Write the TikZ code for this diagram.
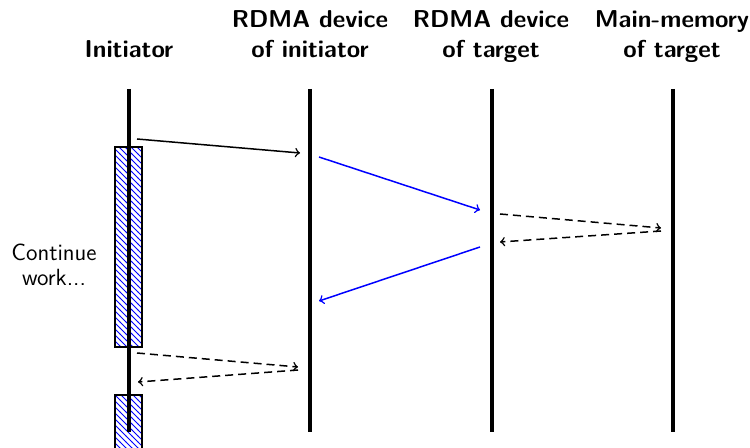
\documentclass[tikz,border=0pt]{standalone}
\usetikzlibrary{patterns}
\begin{document}
\begin{tikzpicture}[x=0.5pt,y=-0.5pt,
  title/.style={font=\fontsize{12.2}{15}\selectfont\sffamily\bfseries, align=center, anchor=south, text depth=0pt, inner sep=0pt},
  lifeline/.style={line width=2pt},
  msg/.style={line width=0.75pt,->},
  blue msg/.style={msg, draw=blue},
  dmsg/.style={msg, dash pattern=on 4pt off 2.5pt},
  busy/.style={draw=black, line width=0.6pt, preaction={fill=white}, pattern=north west lines, pattern color=blue}
]
\clip (0,0) rectangle (750,448);
\useasboundingbox (0,0) rectangle (750,448);

% titles
\node[title] (tI) at (129,58) {Initiator};
\node[title] (tR) at (310,58) {RDMA device\\of initiator};
\node[title] (tT) at (491,58) {RDMA device\\of target};
\node[title] (tM) at (672,58) {Main-memory\\of target};

% activation boxes
\draw[busy] (115,147) rectangle (142,347);
\draw[busy] (115,395) rectangle (142,470);

% lifelines
\coordinate (I0) at (129,89);  \coordinate (I1) at (129,432);
\coordinate (R0) at (310,89);  \coordinate (R1) at (310,432);
\coordinate (T0) at (492,89);  \coordinate (T1) at (492,432);
\coordinate (M0) at (673,89);  \coordinate (M1) at (673,432);
\draw[lifeline] (I0) -- (I1);
\draw[lifeline] (R0) -- (R1);
\draw[lifeline] (T0) -- (T1);
\draw[lifeline] (M0) -- (M1);

% message endpoints
\coordinate (a1) at (137,139); \coordinate (a2) at (300,153);
\coordinate (b1) at (319,157); \coordinate (b2) at (480,210);
\coordinate (c1) at (500,214); \coordinate (c2) at (661,228);
\coordinate (d1) at (661,231); \coordinate (d2) at (500,242);
\coordinate (e1) at (480,247); \coordinate (e2) at (319,301);
\coordinate (f1) at (137,353); \coordinate (f2) at (298,367);
\coordinate (g1) at (298,370); \coordinate (g2) at (138,382);

\draw[msg] (a1) -- (a2);
\draw[blue msg] (b1) -- (b2);
\draw[dmsg] (c1) -- (c2);
\draw[dmsg] (d1) -- (d2);
\draw[blue msg] (e1) -- (e2);
\draw[dmsg] (f1) -- (f2);
\draw[dmsg] (g1) -- (g2);

\node[font=\fontsize{11.7}{12.5}\selectfont\sffamily, align=center, inner sep=0pt] (cw) at (54,265) {Continue\\work...};
\end{tikzpicture}
\end{document}
